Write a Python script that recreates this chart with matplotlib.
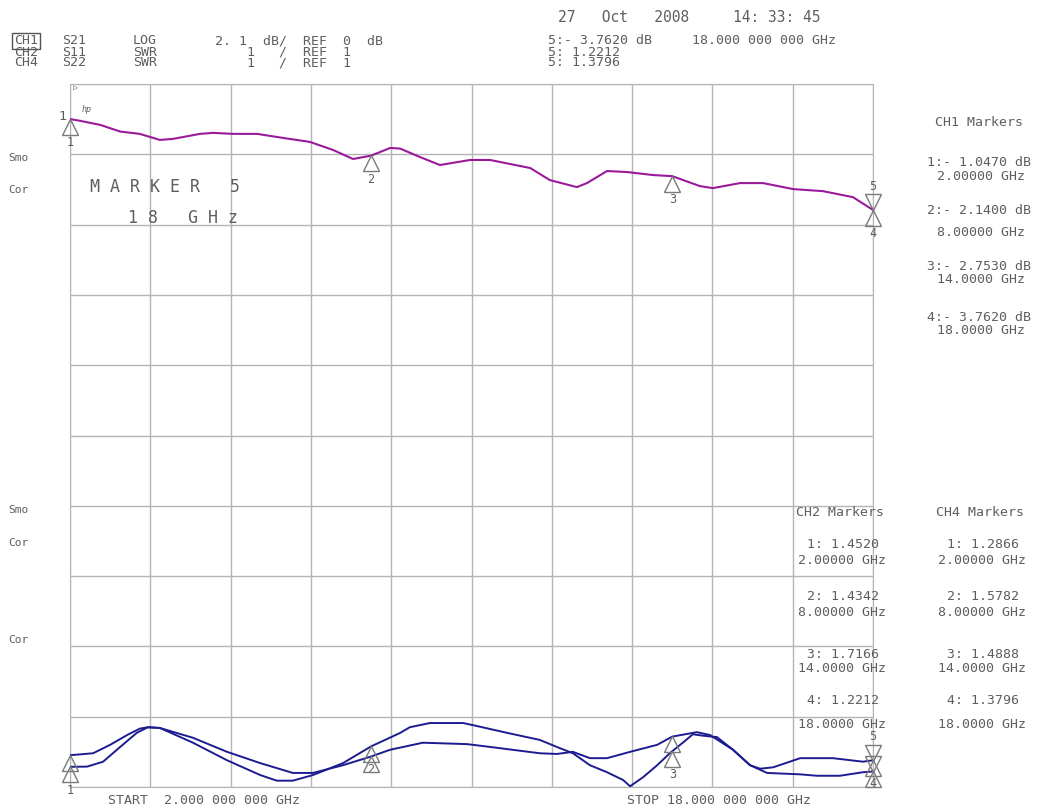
import matplotlib
matplotlib.use('Agg')
import matplotlib.pyplot as plt
import numpy as np
from matplotlib.transforms import offset_copy

# CH1  S21  LOG (dB) vs frequency (GHz)
s21_f = [2.00, 2.20, 2.60, 3.00, 3.39, 3.79, 4.05, 4.59, 4.85, 5.25, 5.73, 6.24,
         6.78, 7.24, 7.64, 8.00, 8.38, 8.58, 8.97, 9.37, 9.97, 10.37, 11.17,
         11.56, 12.10, 12.30, 12.70, 13.10, 13.62, 14.00, 14.55, 14.81, 15.35,
         15.81, 16.41, 17.00, 17.60, 18.00]
s21_db = [-1.047, -1.10, -1.22, -1.42, -1.49, -1.67, -1.64, -1.49, -1.46, -1.49,
          -1.49, -1.61, -1.73, -1.97, -2.24, -2.14, -1.91, -1.93, -2.18, -2.42,
          -2.27, -2.27, -2.51, -2.87, -3.08, -2.96, -2.60, -2.63, -2.72, -2.753,
          -3.05, -3.11, -2.96, -2.96, -3.14, -3.20, -3.38, -3.762]

# CH2  S11  SWR
s11_f = [2.00, 2.46, 2.80, 3.14, 3.39, 3.55, 3.79, 4.45, 5.13, 5.79, 6.44, 6.84,
         7.44, 8.00, 8.38, 9.03, 9.91, 10.37, 11.36, 11.70, 12.02, 12.36, 12.70,
         13.16, 13.70, 14.00, 14.49, 14.75, 15.21, 15.55, 15.89, 16.55, 16.88,
         17.34, 17.80, 18.00]
s11_swr = [1.452, 1.48, 1.60, 1.74, 1.83, 1.85, 1.84, 1.70, 1.50, 1.34, 1.20, 1.20,
           1.31, 1.434, 1.53, 1.63, 1.61, 1.57, 1.48, 1.47, 1.50, 1.41, 1.41,
           1.50, 1.60, 1.717, 1.78, 1.74, 1.53, 1.31, 1.20, 1.18, 1.16,
           1.16, 1.21, 1.221]

# CH4  S22  SWR
s22_f = [2.00, 2.34, 2.66, 3.00, 3.33, 3.55, 3.79, 4.45, 5.13, 5.79, 6.12, 6.44,
         6.84, 7.44, 8.00, 8.58, 8.77, 9.17, 9.83, 10.03, 10.71, 11.36, 11.70,
         12.02, 12.36, 12.70, 13.02, 13.16, 13.42, 13.70, 13.95, 14.21, 14.41,
         14.61, 14.89, 15.21, 15.55, 15.75, 16.01, 16.55, 17.20, 17.80, 18.00]
s22_swr = [1.287, 1.29, 1.36, 1.57, 1.77, 1.85, 1.84, 1.63, 1.38, 1.17, 1.09, 1.09,
           1.17, 1.34, 1.578, 1.77, 1.85, 1.91, 1.91, 1.88, 1.77, 1.67, 1.57,
           1.48, 1.31, 1.21, 1.10, 1.01, 1.14, 1.31, 1.48, 1.63, 1.75,
           1.73, 1.71, 1.53, 1.31, 1.26, 1.28, 1.41, 1.41, 1.36, 1.380]

mk_f = [2, 8, 14, 18]
mk_names = ['1', '2', '3', '4']
mk_s21 = ['-1.0470', '-2.1400', '-2.7530', '-3.7620']
mk_s11 = ['1.4520', '1.4342', '1.7166', '1.2212']
mk_s22 = ['1.2866', '1.5782', '1.4888', '1.3796']
mk_freq = ['2.00000 GHz', '8.00000 GHz', '14.0000 GHz', '18.0000 GHz']

W, H = 1039, 809
TXT = '#5e5e5e'
GRID = '#b4b4b4'
MK = '#7a7a7a'
FONT = 'DejaVu Sans Mono'

fig = plt.figure(figsize=(W / 100, H / 100), dpi=100)
fig.patch.set_facecolor('white')

# CH1 scale: 2.1 dB/div, REF 0 dB at top
ax = fig.add_axes([70 / W, 1 - 787 / H, 803 / W, 703 / H])
ax.set_xlim(2, 18)
ax.set_ylim(-21, 0)
ax.set_xticks(np.linspace(2, 18, 11))
ax.set_yticks(np.linspace(-21, 0, 11))
ax.grid(color=GRID, linewidth=1)
ax.tick_params(length=0, labelbottom=False, labelleft=False)
for sp in ax.spines.values():
    sp.set_color(GRID)

# CH2 / CH4 scale: SWR 1/div, REF 1 at bottom
ax2 = ax.twinx()
ax2.set_ylim(1, 11)
ax2.set_axis_off()

ax.plot(s21_f, s21_db, color='#9a1a9a', lw=1.5, zorder=3)
ax2.plot(s11_f, s11_swr, color='#1c1c90', lw=1.4, zorder=3)
ax2.plot(s22_f, s22_swr, color='#1c1c90', lw=1.4, zorder=3)


def markers(axis, fs, vs, show_labels):
    up = offset_copy(axis.transData, fig=fig, x=0, y=-5.5, units='points')
    down = offset_copy(axis.transData, fig=fig, x=0, y=5.5, units='points')
    axis.plot(fs, vs, ls='none', marker='^', ms=11, mfc='none', mec=MK,
              mew=1.0, transform=up, zorder=4, clip_on=False)
    axis.plot(fs[-1], vs[-1], ls='none', marker='v', ms=11, mfc='none',
              mec=MK, mew=1.0, transform=down, zorder=4, clip_on=False)
    if show_labels:
        for f, v, n in zip(fs, vs, mk_names):
            axis.annotate(n, (f, v), xytext=(0, -17), textcoords='offset points',
                          ha='center', va='center', color=TXT, fontsize=8.5,
                          family=FONT)
        axis.annotate('5', (fs[-1], vs[-1]), xytext=(0, 17),
                      textcoords='offset points', ha='center', va='center',
                      color=TXT, fontsize=8.5, family=FONT)


markers(ax, mk_f, list(np.interp(mk_f, s21_f, s21_db)), True)
markers(ax2, mk_f, list(np.interp(mk_f, s11_f, s11_swr)), False)
markers(ax2, mk_f, list(np.interp(mk_f, s22_f, s22_swr)), True)


def label(x, y, s, ha='left', size=9.5, **kw):
    fig.text(x / W, 1 - y / H, s, ha=ha, va='center', color=TXT,
             fontsize=size, family=FONT, **kw)


# header
label(14, 41, 'CH1', bbox=dict(boxstyle='square,pad=0.12', fc='white',
                                 ec='#555555', lw=1))
label(14, 52, 'CH2')
label(14, 63, 'CH4')
label(62, 41, 'S21')
label(62, 52, 'S11')
label(62, 63, 'S22')
label(133, 41, 'LOG')
label(133, 52, 'SWR')
label(133, 63, 'SWR')
label(215, 41, '2. 1  dB/  REF  0  dB')
label(247, 52, '1   /  REF  1')
label(247, 63, '1   /  REF  1')
label(558, 18, '27   Oct   2008     14: 33: 45', size=10.5)
label(548, 41, '5:- 3.7620 dB     18.000 000 000 GHz')
label(548, 52, '5: 1.2212')
label(548, 63, '5: 1.3796')
label(73, 87, '\u25b7', size=6)
label(58, 117, '1')
label(82, 110, 'hp', size=6, style='italic')

# left side status
label(8, 158, 'Smo', size=8)
label(8, 190, 'Cor', size=8)
label(8, 510, 'Smo', size=8)
label(8, 543, 'Cor', size=8)
label(8, 640, 'Cor', size=8)

label(90, 187, 'M A R K E R   5', size=12)
label(128, 218, '1 8   G H z', size=12)

# marker tables
label(979, 122, 'CH1 Markers', ha='center')
y1 = [163, 210, 266, 318]
yg = [176, 233, 279, 331]
for yy, ff, n, v, fr in zip(y1, yg, mk_names, mk_s21, mk_freq):
    label(979, yy, n + ':- ' + v[1:] + ' dB', ha='center')
    label(981, ff, fr, ha='center')

label(840, 512, 'CH2 Markers', ha='center')
label(980, 512, 'CH4 Markers', ha='center')
y2 = [544, 597, 654, 700]
yf = [560, 612, 668, 724]
for yy, ff, n, a, b, fr in zip(y2, yf, mk_names, mk_s11, mk_s22, mk_freq):
    label(843, yy, n + ': ' + a, ha='center')
    label(842, ff, fr, ha='center')
    label(983, yy, n + ': ' + b, ha='center')
    label(982, ff, fr, ha='center')

label(108, 800, 'START  2.000 000 000 GHz')
label(627, 800, 'STOP 18.000 000 000 GHz')

fig.savefig('out.png', dpi=100)
